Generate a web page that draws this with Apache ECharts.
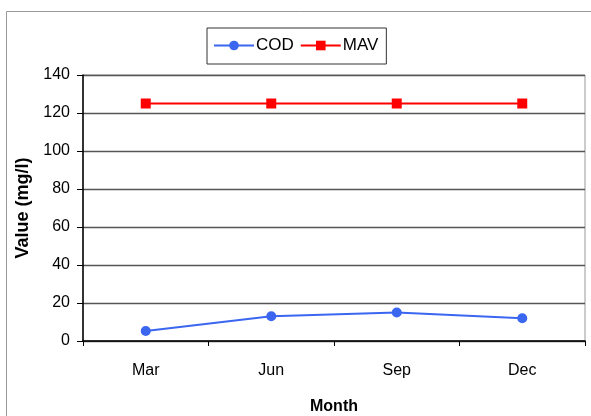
<!DOCTYPE html>
<html>
<head>
<meta charset="utf-8">
<script src="https://cdn.jsdelivr.net/npm/echarts@6/dist/echarts.min.js"></script>
<style>
html,body{margin:0;padding:0;background:#fff;}
#chart{width:591px;height:416px;}
</style>
</head>
<body>
<div id="chart"></div>
<script>
const months = ['Mar', 'Jun', 'Sep', 'Dec'];
const codValues = [5.3, 13, 15, 12];
const mavValues = [125, 125, 125, 125];
const yTicks = [0, 20, 40, 60, 80, 100, 120, 140];

const FONT = '"Liberation Sans Narrow", "Liberation Sans", Arial, sans-serif';
const chart = echarts.init(document.getElementById('chart'), null, {renderer: 'canvas'});
chart.setOption({
  animation: false,
  backgroundColor: '#fff',
  graphic: [{
    type: 'polyline',
    shape: {points: [[6.5, 420], [6.5, 11.5], [600, 11.5]]},
    style: {stroke: '#999', lineWidth: 1, fill: null},
    silent: true
  }],
  legend: {
    left: 207, top: 28,
    width: 179, height: 37,
    padding: [9, 8, 10, 6],
    borderColor: '#333', borderWidth: 1,
    itemWidth: 40, itemHeight: 12, itemGap: 6,
    textStyle: {fontFamily: FONT, fontSize: 17, color: '#000', padding: [0, 0, 0, -3]},
    data: ['COD', 'MAV']
  },
  grid: {
    left: 83, right: 6, top: 75, bottom: 75,
    show: true, borderColor: '#999', borderWidth: 1,
    containLabel: false, outerBoundsMode: 'none'
  },
  xAxis: {
    type: 'category',
    data: months,
    boundaryGap: true,
    name: 'Month',
    nameLocation: 'middle',
    nameGap: 58,
    nameTextStyle: {fontFamily: FONT, fontSize: 16, fontWeight: 'bold', color: '#000'},
    axisLine: {lineStyle: {color: '#000', width: 1.5}},
    axisTick: {show: true, alignWithLabel: false, length: 5, lineStyle: {color: '#000'}},
    axisLabel: {fontFamily: FONT, fontSize: 16, color: '#000', margin: 22}
  },
  yAxis: {
    type: 'value',
    min: yTicks[0], max: yTicks[yTicks.length - 1], interval: 20,
    name: 'Value (mg/l)',
    nameLocation: 'middle',
    nameGap: 46,
    nameTextStyle: {fontFamily: FONT, fontSize: 18, fontWeight: 'bold', color: '#000'},
    axisLine: {show: true, lineStyle: {color: '#000', width: 1.5}},
    axisTick: {show: true, length: 6, lineStyle: {color: '#000'}},
    axisLabel: {fontFamily: FONT, fontSize: 16, color: '#000', margin: 13},
    splitLine: {show: true, lineStyle: {color: '#555', width: 1.3}}
  },
  series: [{
    name: 'COD',
    type: 'line',
    data: codValues,
    symbol: 'circle',
    symbolSize: 10,
    itemStyle: {color: '#3a66f0'},
    lineStyle: {color: '#3a66f0', width: 2}
  }, {
    name: 'MAV',
    type: 'line',
    data: mavValues,
    symbol: 'rect',
    symbolSize: 10,
    itemStyle: {color: '#ff0000'},
    lineStyle: {color: '#ff0000', width: 2}
  }]
});
</script>
</body>
</html>
